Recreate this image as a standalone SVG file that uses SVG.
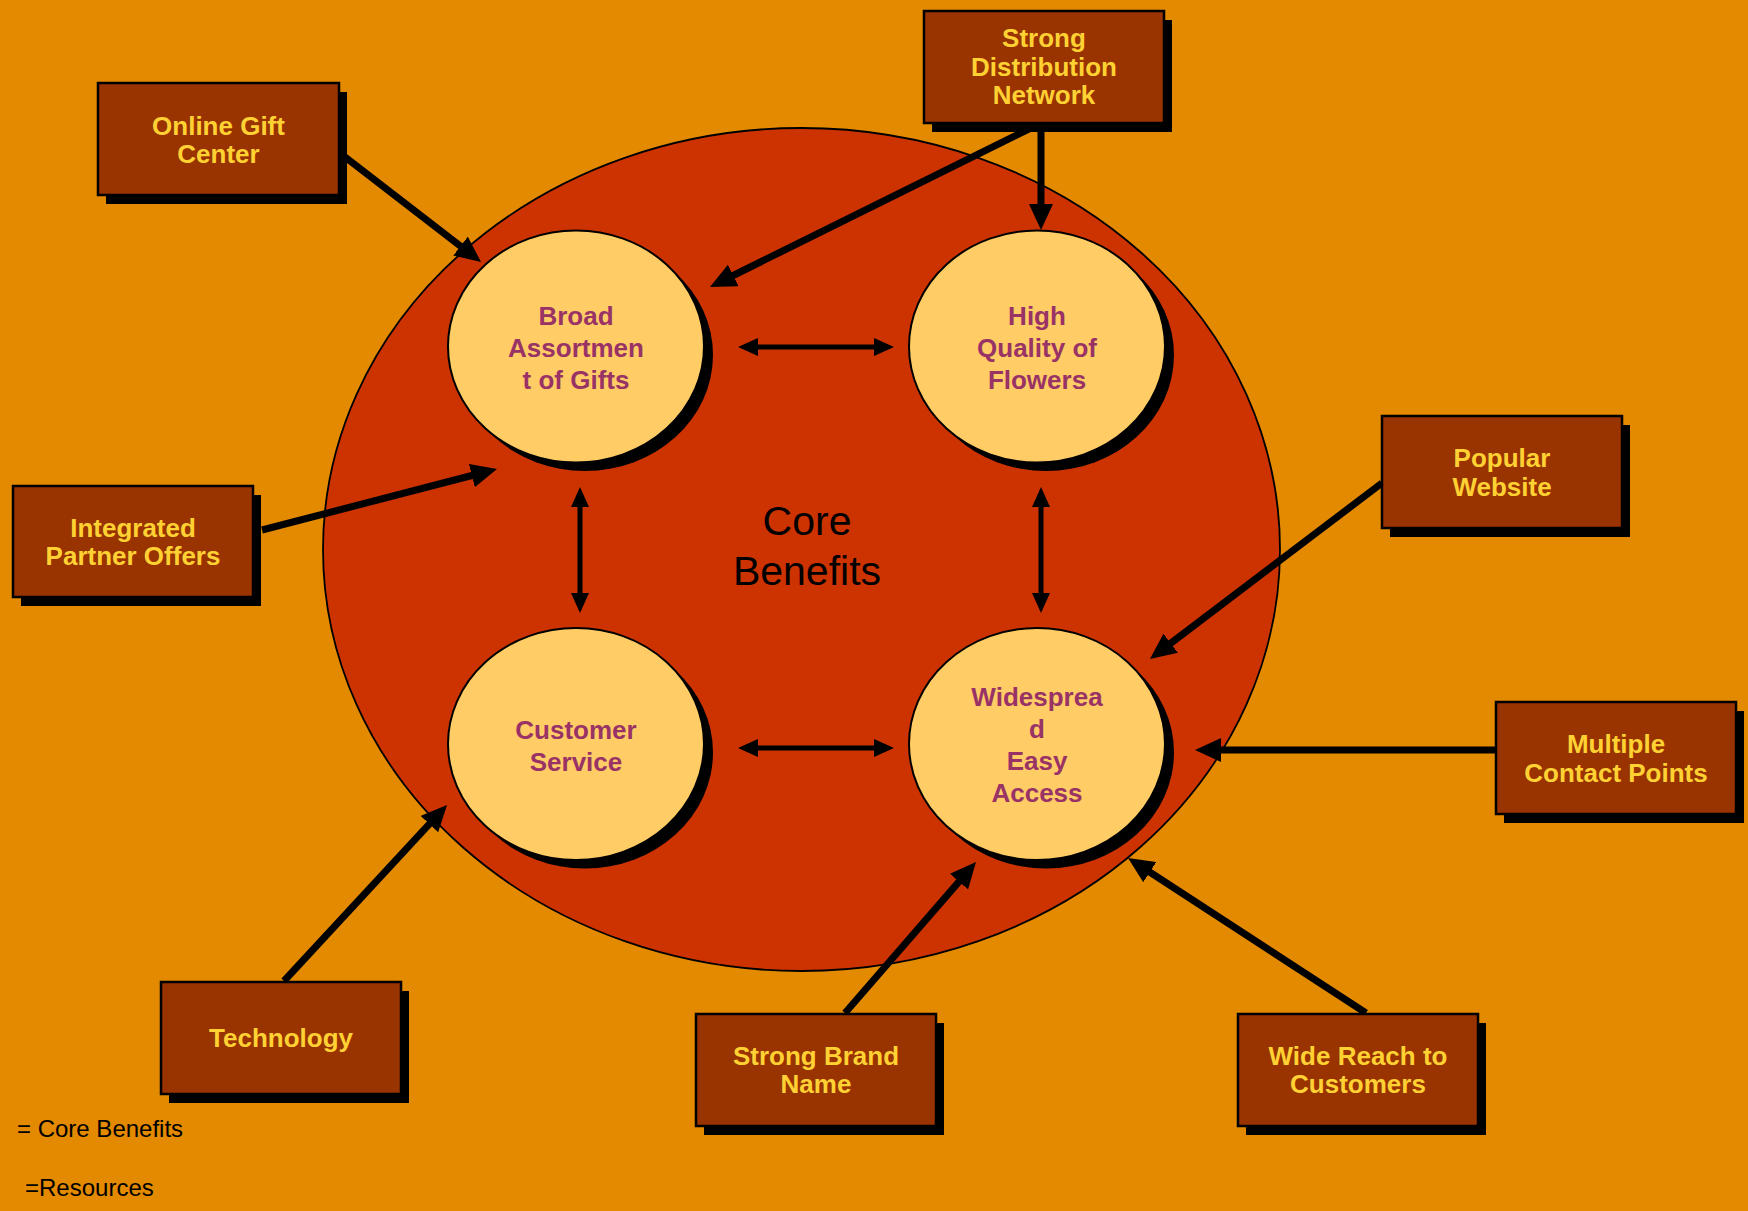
<svg xmlns="http://www.w3.org/2000/svg" width="1748" height="1211" viewBox="0 0 1748 1211">
<style>
.box{fill:#993300;stroke:#000;stroke-width:2.5}
.shadow{fill:#000}
.btxt{font-family:"Liberation Sans",Arial,sans-serif;font-weight:bold;font-size:26px;fill:#FFD133;text-anchor:middle}
.circ{fill:#FFCC66;stroke:#000;stroke-width:2}
.ctxt{font-family:"Liberation Sans",Arial,sans-serif;font-weight:bold;font-size:26px;fill:#993366;text-anchor:middle}
.thick{stroke:#000;stroke-width:7;fill:none;marker-end:url(#ah)}
.dbl{stroke:#000;stroke-width:5;fill:none;marker-start:url(#ah2);marker-end:url(#ah2)}
.legend{font-family:"Liberation Sans",Arial,sans-serif;font-size:24px;fill:#000}
</style>
<defs>
<marker id="ah" markerUnits="userSpaceOnUse" markerWidth="26" markerHeight="24" refX="8" refY="12" orient="auto">
<path d="M0,0 L26,12 L0,24 Z" fill="#000"/>
</marker>
<marker id="ah2" markerUnits="userSpaceOnUse" markerWidth="20" markerHeight="18" refX="6" refY="9" orient="auto-start-reverse">
<path d="M0,0 L20,9 L0,18 Z" fill="#000"/>
</marker>
</defs>
<rect x="0" y="0" width="1748" height="1211" fill="#E38A00"/>
<g id="core-area">
<ellipse cx="801.5" cy="549.5" rx="478.5" ry="421.5" fill="#CC3300" stroke="#000" stroke-width="1.8"/>
<text x="807" y="535" font-family="Liberation Sans, Arial, sans-serif" font-size="41" text-anchor="middle" fill="#000">Core</text>
<text x="807" y="585" font-family="Liberation Sans, Arial, sans-serif" font-size="41" text-anchor="middle" fill="#000">Benefits</text>
</g>
<g id="broad">
<ellipse cx="585" cy="355" rx="128" ry="116" class="shadow"/>
<ellipse cx="576" cy="346.5" rx="128" ry="116" class="circ"/>
<text class="ctxt" x="576" y="325">Broad</text>
<text class="ctxt" x="576" y="357">Assortmen</text>
<text class="ctxt" x="576" y="389">t of Gifts</text>
</g>
<g id="high-quality">
<ellipse cx="1046" cy="355" rx="128" ry="116" class="shadow"/>
<ellipse cx="1037" cy="346.5" rx="128" ry="116" class="circ"/>
<text class="ctxt" x="1037" y="325">High</text>
<text class="ctxt" x="1037" y="357">Quality of</text>
<text class="ctxt" x="1037" y="389">Flowers</text>
</g>
<g id="customer-service">
<ellipse cx="585" cy="752.5" rx="128" ry="116" class="shadow"/>
<ellipse cx="576" cy="744" rx="128" ry="116" class="circ"/>
<text class="ctxt" x="576" y="738.5">Customer</text>
<text class="ctxt" x="576" y="770.5">Service</text>
</g>
<g id="widespread">
<ellipse cx="1046" cy="752.5" rx="128" ry="116" class="shadow"/>
<ellipse cx="1037" cy="744" rx="128" ry="116" class="circ"/>
<text class="ctxt" x="1037" y="706">Widesprea</text>
<text class="ctxt" x="1037" y="738">d</text>
<text class="ctxt" x="1037" y="770">Easy</text>
<text class="ctxt" x="1037" y="802">Access</text>
</g>
<g id="connectors">
<line class="thick" x1="345" y1="157" x2="466.8" y2="251"/>
<line class="thick" x1="1041" y1="123" x2="726.1" y2="279"/>
<line class="thick" x1="1041" y1="121" x2="1041" y2="212"/>
<line class="thick" x1="262" y1="530" x2="479.6" y2="473.5"/>
<line class="thick" x1="1382" y1="483" x2="1164.3" y2="648.1"/>
<line class="thick" x1="1496" y1="750" x2="1213" y2="750"/>
<line class="thick" x1="284" y1="981" x2="434.8" y2="818.2"/>
<line class="thick" x1="845" y1="1013" x2="964.2" y2="875.6"/>
<line class="thick" x1="1366" y1="1013" x2="1143.1" y2="867.8"/>
<line class="dbl" x1="752" y1="347" x2="880" y2="347"/>
<line class="dbl" x1="752" y1="748" x2="880" y2="748"/>
<line class="dbl" x1="580" y1="501" x2="580" y2="599"/>
<line class="dbl" x1="1041" y1="501" x2="1041" y2="599"/>
</g>
<g id="online-gift-center">
<rect class="shadow" x="106" y="92" width="241" height="112"/>
<rect class="box" x="98" y="83" width="241" height="112"/>
<text class="btxt" x="218.5" y="135">Online Gift</text>
<text class="btxt" x="218.5" y="163">Center</text>
</g>
<g id="strong-distribution">
<rect class="shadow" x="932" y="20" width="240" height="112"/>
<rect class="box" x="924" y="11" width="240" height="112"/>
<text class="btxt" x="1044" y="47">Strong</text>
<text class="btxt" x="1044" y="76">Distribution</text>
<text class="btxt" x="1044" y="104">Network</text>
</g>
<g id="integrated-partner">
<rect class="shadow" x="21" y="495" width="240" height="111"/>
<rect class="box" x="13" y="486" width="240" height="111"/>
<text class="btxt" x="133" y="537">Integrated</text>
<text class="btxt" x="133" y="565">Partner Offers</text>
</g>
<g id="popular-website">
<rect class="shadow" x="1390" y="425" width="240" height="112"/>
<rect class="box" x="1382" y="416" width="240" height="112"/>
<text class="btxt" x="1502" y="467">Popular</text>
<text class="btxt" x="1502" y="496">Website</text>
</g>
<g id="multiple-contact">
<rect class="shadow" x="1504" y="711" width="240" height="112"/>
<rect class="box" x="1496" y="702" width="240" height="112"/>
<text class="btxt" x="1616" y="753">Multiple</text>
<text class="btxt" x="1616" y="782">Contact Points</text>
</g>
<g id="technology">
<rect class="shadow" x="169" y="991" width="240" height="112"/>
<rect class="box" x="161" y="982" width="240" height="112"/>
<text class="btxt" x="281" y="1047">Technology</text>
</g>
<g id="strong-brand">
<rect class="shadow" x="704" y="1023" width="240" height="112"/>
<rect class="box" x="696" y="1014" width="240" height="112"/>
<text class="btxt" x="816" y="1065">Strong Brand</text>
<text class="btxt" x="816" y="1093">Name</text>
</g>
<g id="wide-reach">
<rect class="shadow" x="1246" y="1023" width="240" height="112"/>
<rect class="box" x="1238" y="1014" width="240" height="112"/>
<text class="btxt" x="1358" y="1065">Wide Reach to</text>
<text class="btxt" x="1358" y="1093">Customers</text>
</g>
<g id="legend">
<text class="legend" x="17" y="1137">= Core Benefits</text>
<text class="legend" x="25" y="1196">=Resources</text>
</g>
</svg>
